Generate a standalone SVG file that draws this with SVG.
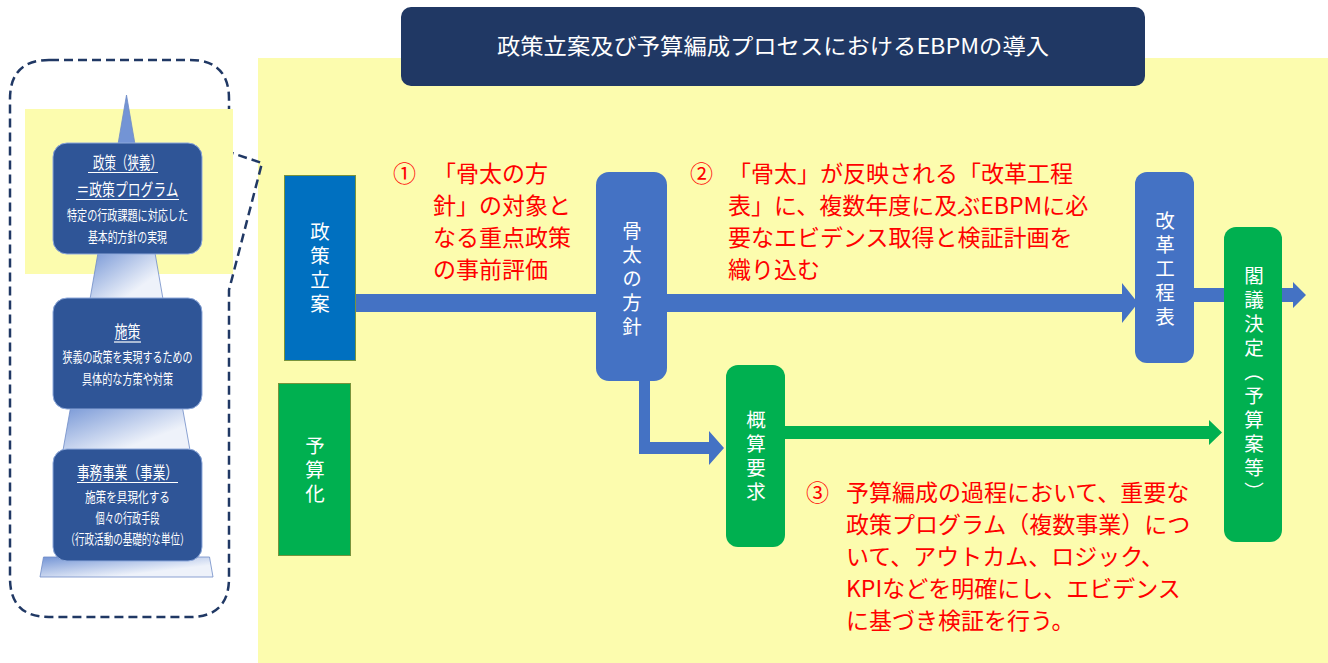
<svg xmlns="http://www.w3.org/2000/svg" width="1328" height="663" viewBox="0 0 1328 663">
<defs>
<style>
.t{font-family:'Noto Sans CJK JP','Noto Sans',sans-serif;}
.wh{fill:#ffffff;}
.red{fill:#ff0000;font-size:23px;}
.vt{font-size:19.5px;fill:#ffffff;writing-mode:vertical-rl;letter-spacing:4.5px;}
.pn{fill:#2f5597;stroke:#8ea9db;stroke-width:1;}
.hd{font-size:17px;fill:#ffffff;}
.sb{font-size:14px;fill:#ffffff;}
.ul{stroke:#ffffff;stroke-width:1.2;}
.blue{fill:#4472c4;}
.green{fill:#00b050;}
</style>
<linearGradient id="pg" x1="0" y1="0" x2="1" y2="1">
<stop offset="0" stop-color="#7394d5"/>
<stop offset="0.7" stop-color="#eef2fa"/>
</linearGradient>
</defs>
<rect width="1328" height="663" fill="#ffffff"/>
<rect x="258" y="58" width="1070" height="605" fill="#fcfcae"/>
<g id="title">
<rect x="401" y="7" width="744" height="79" rx="10" fill="#203864"/>
<text class="t wh" x="773" y="54" font-size="22" text-anchor="middle" textLength="552" lengthAdjust="spacingAndGlyphs">政策立案及び予算編成プロセスにおけるEBPMの導入</text>
</g>
<g id="pyramid">
<path d="M50,60 H190 Q229,60 229,99 V152 L262,163 L229,290 V578 Q229,617 190,617 H49 Q10,617 10,578 V99 Q10,60 49,60 Z" fill="none" stroke="#203864" stroke-width="2.5" stroke-dasharray="9 5"/>
<rect x="25" y="109" width="208" height="165" fill="#fcfcae"/>
<polygon points="126.5,95 117,150 136,150" fill="#7394d5" stroke="#6e8bc6" stroke-width="0.8"/>
<polygon points="98.5,250 154.5,250 163.5,302 89.5,302" fill="url(#pg)" stroke="#6e8bc6" stroke-width="0.8"/>
<polygon points="71,405 182,405 190.5,453 62.5,453" fill="url(#pg)" stroke="#6e8bc6" stroke-width="0.8"/>
<polygon points="43.5,557 209.5,557 213,577 40,577" fill="url(#pg)" stroke="#6e8bc6" stroke-width="0.8"/>
<g id="node-policy">
<rect class="pn" x="53" y="143" width="149" height="111" rx="14"/>
<text class="t hd" x="127.5" y="169" text-anchor="middle" textLength="69" lengthAdjust="spacingAndGlyphs">政策（狭義）</text>
<line class="ul" x1="88" y1="172.5" x2="158" y2="172.5"/>
<text class="t hd" x="127.5" y="196" text-anchor="middle" textLength="102" lengthAdjust="spacingAndGlyphs">＝政策プログラム</text>
<line class="ul" x1="76" y1="199.5" x2="179" y2="199.5"/>
<text class="t sb" x="127.5" y="220" text-anchor="middle" textLength="121" lengthAdjust="spacingAndGlyphs">特定の行政課題に対応した</text>
<text class="t sb" x="127.5" y="242" text-anchor="middle" textLength="79" lengthAdjust="spacingAndGlyphs">基本的方針の実現</text>
</g>
<g id="node-measure">
<rect class="pn" x="53" y="298" width="149" height="111" rx="14"/>
<text class="t hd" x="127.5" y="338" text-anchor="middle" textLength="26" lengthAdjust="spacingAndGlyphs">施策</text>
<line class="ul" x1="114" y1="342" x2="141" y2="342"/>
<text class="t sb" x="127.5" y="362" text-anchor="middle" textLength="130" lengthAdjust="spacingAndGlyphs">狭義の政策を実現するための</text>
<text class="t sb" x="127.5" y="384" text-anchor="middle" textLength="91" lengthAdjust="spacingAndGlyphs">具体的な方策や対策</text>
</g>
<g id="node-project">
<rect class="pn" x="53" y="449" width="149" height="112" rx="14"/>
<text class="t hd" x="127.5" y="479" text-anchor="middle" textLength="101" lengthAdjust="spacingAndGlyphs">事務事業（事業）</text>
<line class="ul" x1="77" y1="482.5" x2="178" y2="482.5"/>
<text class="t sb" x="127.5" y="502" text-anchor="middle" textLength="85" lengthAdjust="spacingAndGlyphs">施策を具現化する</text>
<text class="t sb" x="127.5" y="523" text-anchor="middle" textLength="64" lengthAdjust="spacingAndGlyphs">個々の行政手段</text>
<text class="t sb" x="127.5" y="544" text-anchor="middle" textLength="124" lengthAdjust="spacingAndGlyphs">（行政活動の基礎的な単位）</text>
</g>
</g>
<g id="connectors">
<polygon class="blue" points="350,294 1122,294 1122,283 1138,303 1122,323 1122,312 350,312"/>
<polygon class="blue" points="639,375 650,375 650,442 709,442 709,431 724,448 709,465 709,454 639,454"/>
<polygon class="green" points="780,426 1209,426 1209,420 1222,432.5 1209,445 1209,439 780,439"/>
<polygon class="blue" points="1190,288 1293,288 1293,282 1306,295 1293,308 1293,302 1190,302"/>
</g>
<g id="n-seisaku">
<rect x="284.5" y="175.5" width="71" height="185" fill="#0070c0" stroke="#77933c" stroke-width="1"/>
<text class="t vt" x="320" y="270" text-anchor="middle">政策立案</text>
</g>
<g id="n-yosanka">
<rect x="278.5" y="383.5" width="72" height="172" fill="#00b050" stroke="#77933c" stroke-width="1"/>
<text class="t vt" x="315" y="472" text-anchor="middle">予算化</text>
</g>
<g id="n-honebuto">
<rect class="blue" x="596" y="172" width="71" height="209" rx="13"/>
<text class="t vt" x="632" y="281" text-anchor="middle">骨太の方針</text>
</g>
<g id="n-kaikaku">
<rect class="blue" x="1135" y="172" width="59" height="191" rx="12"/>
<text class="t vt" x="1165" y="271" text-anchor="middle">改革工程表</text>
</g>
<g id="n-gaisan">
<rect class="green" x="726" y="365" width="59" height="182" rx="12"/>
<text class="t vt" x="756" y="458" text-anchor="middle">概算要求</text>
</g>
<g id="n-kakugi">
<rect class="green" x="1224" y="227" width="58" height="315" rx="12"/>
<text class="t vt" x="1254" y="386" text-anchor="middle" letter-spacing="4">閣議決定（予算案等）</text>
</g>
<g id="note1">
<text class="t red" x="393" y="182">①</text>
<text class="t red" x="433" y="182">「骨太の方</text>
<text class="t red" x="433" y="214">針」の対象と</text>
<text class="t red" x="433" y="246">なる重点政策</text>
<text class="t red" x="433" y="278">の事前評価</text>
</g>
<g id="note2">
<text class="t red" x="690" y="182">②</text>
<text class="t red" x="728" y="182">「骨太」が反映される「改革工程</text>
<text class="t red" x="728" y="214">表」に、複数年度に及ぶEBPMに必</text>
<text class="t red" x="728" y="246">要なエビデンス取得と検証計画を</text>
<text class="t red" x="728" y="278">織り込む</text>
</g>
<g id="note3">
<text class="t red" x="806" y="501">③</text>
<text class="t red" x="846" y="501">予算編成の過程において、重要な</text>
<text class="t red" x="846" y="533">政策プログラム（複数事業）につ</text>
<text class="t red" x="846" y="565">いて、アウトカム、ロジック、</text>
<text class="t red" x="846" y="597">KPIなどを明確にし、エビデンス</text>
<text class="t red" x="846" y="629">に基づき検証を行う。</text>
</g>
</svg>
